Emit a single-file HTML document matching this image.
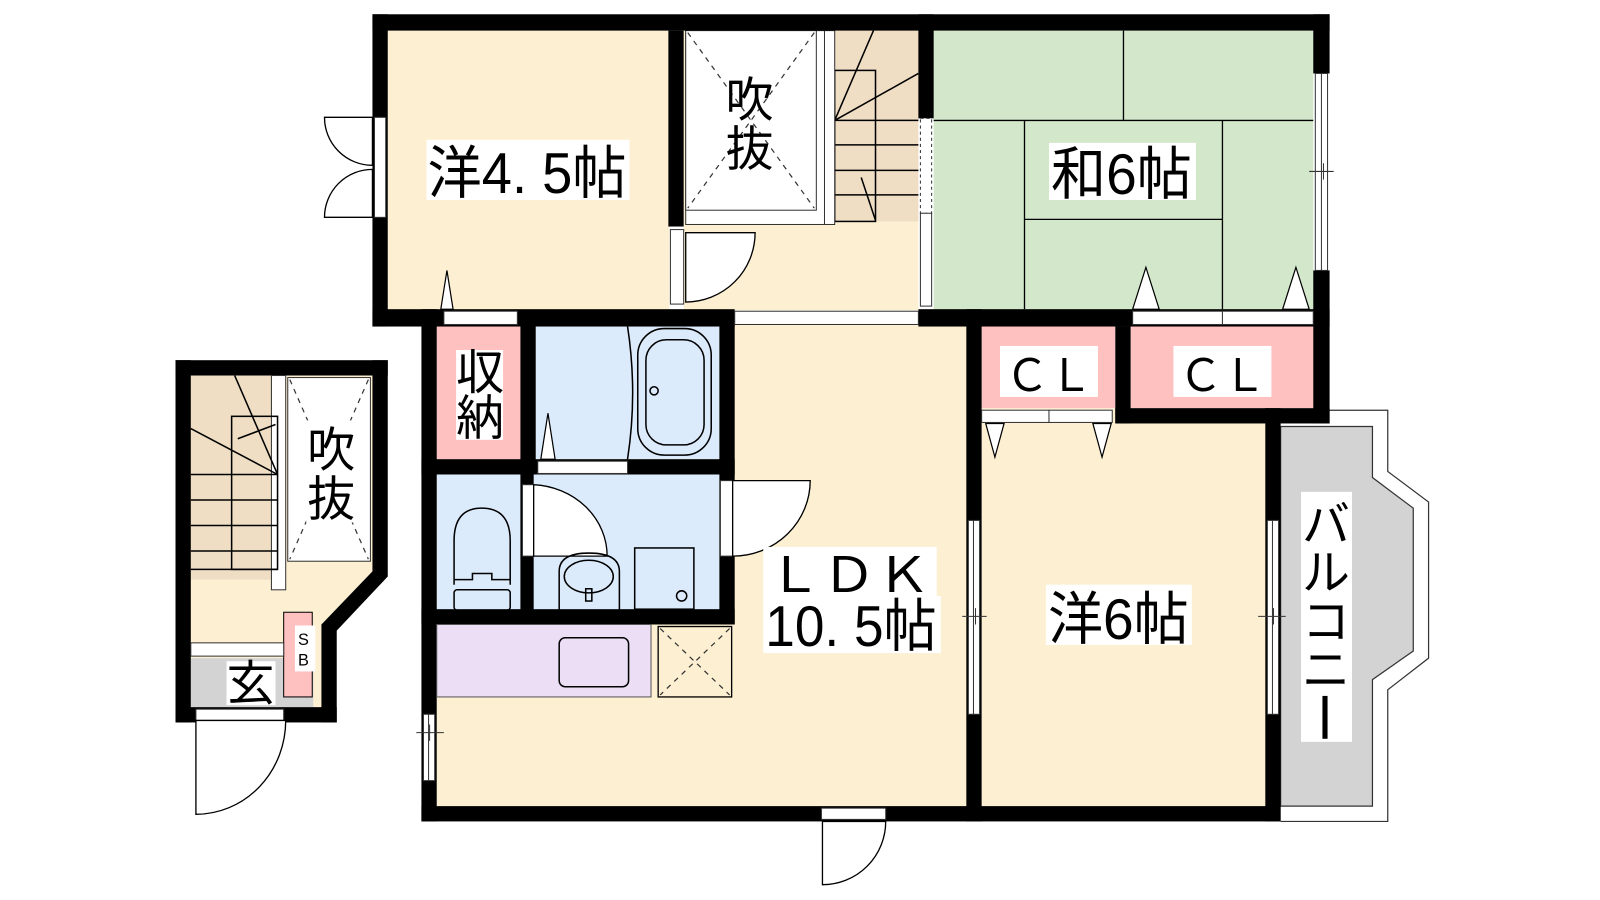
<!DOCTYPE html>
<html><head><meta charset="utf-8"><style>html,body{margin:0;padding:0;background:#fff;}svg{display:block}</style></head>
<body>
<svg width="1600" height="900" viewBox="0 0 1568 882" xmlns="http://www.w3.org/2000/svg" font-family="Liberation Sans, Noto Sans CJK JP, sans-serif">
<g stroke="none">
<rect x="380" y="30" width="276" height="274" fill="#fdf0d2"/>
<rect x="670" y="30" width="230" height="274" fill="#fdf0d2"/>
<rect x="915" y="30" width="372" height="274" fill="#d3e8ca"/>
<rect x="428" y="318" width="520" height="474" fill="#fdf0d2"/>
<rect x="962" y="400" width="280" height="392" fill="#fdf0d2"/>
<rect x="428" y="320" width="82" height="130" fill="#ffc0c0"/>
<rect x="525" y="320" width="180" height="130" fill="#dcebfc"/>
<rect x="428" y="465" width="277" height="133" fill="#dcebfc"/>
<rect x="428" y="612" width="210" height="71" fill="#ecdff5"/>
<rect x="962" y="320" width="131" height="80" fill="#ffc0c0"/>
<rect x="1108" y="320" width="179" height="80" fill="#ffc0c0"/>
<polygon points="187,368 365,368 365,560 315,612 315,693 187,693" fill="#fdf0d2"/>
<rect x="187" y="368" width="85" height="200" fill="#efdec4"/>
<rect x="187" y="645" width="120" height="48" fill="#d3d3d3"/>
<rect x="278" y="600" width="28" height="83" fill="#ffc0c0" stroke="#000" stroke-width="1"/>
<polygon points="1255,418 1345,418 1345,468 1385,498 1385,638 1345,666 1345,790 1255,790" fill="#d3d3d3" stroke="#333" stroke-width="1.2"/>
<polyline points="1255,402 1360,402 1360,462 1400,492 1400,645 1360,676 1360,805 1255,805" fill="none" stroke="#333" stroke-width="1.2"/>
</g>
<rect x="818" y="30" width="82" height="187" fill="#efdec4"/>
<g stroke="#000" stroke-width="1.5" fill="none">
<rect x="818" y="69" width="40" height="148"/>
<line x1="818" y1="118" x2="900" y2="118"/><line x1="818" y1="142" x2="900" y2="142"/>
<line x1="818" y1="167" x2="900" y2="167"/><line x1="818" y1="191" x2="900" y2="191"/>
<line x1="818" y1="118" x2="856" y2="30"/><line x1="818" y1="118" x2="900" y2="72"/>
<line x1="844" y1="174" x2="858" y2="216"/>
</g>
<rect x="808" y="30" width="10" height="190" fill="#fff" stroke="#333" stroke-width="1"/>
<rect x="672" y="30" width="136" height="190" fill="#fff" stroke="#333" stroke-width="1"/>
<rect x="672" y="30" width="128" height="176" fill="#fff" stroke="#333" stroke-width="1"/>
<g stroke="#333" stroke-width="1.2" stroke-dasharray="5,5"><line x1="674" y1="32" x2="798" y2="204"/><line x1="798" y1="32" x2="674" y2="204"/></g>
<g stroke="#000" stroke-width="1.3">
<line x1="1101" y1="30" x2="1101" y2="118"/><line x1="915" y1="118" x2="1287" y2="118"/>
<line x1="1004" y1="118" x2="1004" y2="303"/><line x1="1198" y1="118" x2="1198" y2="303"/>
<line x1="1004" y1="215" x2="1198" y2="215"/>
</g>
<g fill="#000">
<rect x="365" y="14" width="938" height="16"/>
<rect x="365" y="14" width="15" height="306"/>
<rect x="365" y="303" width="355" height="17"/>
<rect x="655" y="30" width="15" height="192"/>
<rect x="900" y="14" width="15" height="102"/>
<rect x="900" y="303" width="403" height="17"/>
<rect x="1287" y="14" width="16" height="58"/>
<rect x="1287" y="265" width="16" height="150"/>
<rect x="413" y="303" width="15" height="502"/>
<rect x="510" y="318" width="15" height="147"/>
<rect x="705" y="318" width="15" height="294"/>
<rect x="413" y="450" width="307" height="15"/>
<rect x="510" y="465" width="13" height="133"/>
<rect x="413" y="597" width="307" height="15"/>
<rect x="947" y="303" width="15" height="502"/>
<rect x="1093" y="320" width="15" height="95"/>
<rect x="1093" y="400" width="210" height="15"/>
<rect x="1240" y="400" width="15" height="405"/>
<rect x="413" y="790" width="842" height="15"/>
<rect x="172" y="353" width="15" height="355"/>
<rect x="172" y="353" width="208" height="15"/>
<polygon points="365,353 380,353 380,565 330,618 330,708 315,708 315,612 365,560"/>
<rect x="172" y="693" width="158" height="15"/>
</g>
<g fill="#fff" stroke="#333" stroke-width="1">
<rect x="367" y="115" width="11" height="98"/>
<rect x="435" y="305" width="72" height="13"/>
<rect x="720" y="305" width="180" height="13"/>
<rect x="657" y="225" width="13" height="73"/>
<rect x="902" y="116" width="11" height="93" stroke-dasharray="3,3"/>
<rect x="902" y="209" width="11" height="91"/>
<rect x="1289" y="72" width="12" height="193"/>
<rect x="1110" y="305" width="88" height="13"/><rect x="1198" y="305" width="89" height="13"/>
<rect x="962" y="402" width="66" height="12"/><rect x="1028" y="402" width="62" height="12"/>
<rect x="527" y="452" width="88" height="12"/>
<rect x="512" y="475" width="11" height="70"/>
<rect x="706" y="471" width="12" height="74"/>
<rect x="949" y="510" width="11" height="190"/>
<rect x="1242" y="510" width="11" height="190"/>
<rect x="415" y="700" width="11" height="65"/>
<rect x="805" y="792" width="63" height="11"/>
<rect x="192" y="695" width="86" height="11"/>
<rect x="187" y="630" width="91" height="13"/>
<rect x="266" y="368" width="14" height="210"/>
</g>
<g stroke="#333" stroke-width="1">
<line x1="1295" y1="72" x2="1295" y2="265"/><line x1="954" y1="510" x2="954" y2="700"/><line x1="1247" y1="510" x2="1247" y2="700"/>
<line x1="420" y1="700" x2="420" y2="765"/>
<line x1="1283" y1="168" x2="1307" y2="168"/><line x1="1297" y1="160" x2="1297" y2="176"/>
<line x1="943" y1="604" x2="967" y2="604"/><line x1="956" y1="596" x2="956" y2="612"/>
<line x1="1233" y1="604" x2="1260" y2="604"/><line x1="1248" y1="596" x2="1248" y2="612"/>
<line x1="408" y1="718" x2="435" y2="718"/><line x1="421" y1="710" x2="421" y2="726"/>
</g>
<g fill="#fff" stroke="#000" stroke-width="1.3">
<path d="M672,228 L740,228 A68,68 0 0 1 672,296 Z"/>
<path d="M523,475 A76,70 0 0 1 595,545 L523,545 Z"/>
<path d="M718,471 L794,471 A76,74 0 0 1 718,545 Z"/>
<path d="M806,805 L806,867 A62,62 0 0 0 868,805 Z"/>
<path d="M192,706 L192,798 A88,92 0 0 0 280,706 Z"/>
<path d="M365,115 L318,115 A47,47 0 0 0 365,162 Z"/>
<path d="M365,213 L318,213 A47,47 0 0 1 365,166 Z"/>
</g>
<g fill="#fff" stroke="#000" stroke-width="1.2">
<polygon points="438,265 432,303 444,303"/>
<polygon points="1123,262 1110,303 1136,303"/>
<polygon points="1270,262 1257,303 1283,303"/>
<polygon points="975,448 966,415 984,415"/>
<polygon points="1080,448 1071,415 1089,415"/>
<polygon points="537,405 530,450 544,450"/>
</g>
<g fill="none" stroke="#000" stroke-width="1.5">
<path d="M615,320 Q625,385 615,450"/>
<rect x="625" y="322" width="72" height="124" rx="26"/>
<rect x="633" y="333" width="57" height="103" rx="20"/>
<circle cx="641" cy="383" r="4"/>
<path d="M445,573 L445,530 Q445,498 472,498 Q500,498 500,530 L500,573"/>
<path d="M445,568 L463,568 L463,562 L482,562 L482,568 L500,568"/>
<rect x="445" y="578" width="55" height="20" rx="3"/>
<path d="M548,598 L548,560 Q548,542 577,542 Q607,542 607,560 L607,598"/>
<ellipse cx="577" cy="565" rx="24" ry="16"/>
<rect x="574" y="577" width="6" height="12"/>
<rect x="622" y="537" width="58" height="60"/>
<circle cx="668" cy="584" r="5"/>
<rect x="548" y="625" width="68" height="48" rx="6"/>
</g>
<rect x="645" y="614" width="72" height="69" fill="#fdf0d2" stroke="#000" stroke-width="1.3"/>
<g stroke="#333" stroke-width="1.2" stroke-dasharray="5,5"><line x1="647" y1="616" x2="715" y2="681"/><line x1="715" y1="616" x2="647" y2="681"/></g>
<rect x="428" y="612" width="210" height="71" fill="none" stroke="#555" stroke-width="1"/>
<g stroke="#000" stroke-width="1.5" fill="none">
<rect x="227" y="408" width="45" height="150"/>
<line x1="187" y1="465" x2="272" y2="465"/><line x1="187" y1="490" x2="272" y2="490"/>
<line x1="187" y1="515" x2="272" y2="515"/><line x1="187" y1="540" x2="272" y2="540"/>
<line x1="187" y1="558" x2="272" y2="558"/>
<line x1="272" y1="465" x2="230" y2="368"/><line x1="272" y1="465" x2="187" y2="420"/>
<line x1="233" y1="430" x2="270" y2="416"/>
</g>
<rect x="282" y="370" width="81" height="180" fill="#fff" stroke="#333" stroke-width="1"/>
<g stroke="#333" stroke-width="1.2" stroke-dasharray="5,5"><line x1="284" y1="372" x2="361" y2="548"/><line x1="361" y1="372" x2="284" y2="548"/></g>
<g fill="#fff">
<rect x="418" y="137" width="199" height="59"/>
<rect x="1028" y="140" width="144" height="56"/>
<rect x="447" y="343" width="46" height="88"/>
<rect x="980" y="339" width="96" height="50"/>
<rect x="1150" y="339" width="96" height="50"/>
<rect x="748" y="536" width="170" height="50"/>
<rect x="748" y="584" width="174" height="56"/>
<rect x="1025" y="573" width="143" height="59"/>
<rect x="1275" y="482" width="50" height="245"/>
<rect x="300" y="412" width="52" height="100"/>
<rect x="222" y="648" width="48" height="43"/>
<rect x="289" y="613" width="20" height="45"/>
</g>
<g fill="#000" font-size="56">
<text x="419" y="189" textLength="195" lengthAdjust="spacingAndGlyphs">洋4. 5帖</text>
<text x="1030" y="190" textLength="138" lengthAdjust="spacingAndGlyphs">和6帖</text>
<text x="1027" y="626" textLength="138" lengthAdjust="spacingAndGlyphs">洋6帖</text>
<text x="750" y="633" textLength="168" lengthAdjust="spacingAndGlyphs">10. 5帖</text>
<text x="752" y="580" font-size="48" textLength="160" lengthAdjust="spacingAndGlyphs">ＬＤＫ</text>
<text x="985" y="383" font-size="44" textLength="86" lengthAdjust="spacingAndGlyphs">ＣＬ</text>
<text x="1155" y="383" font-size="44" textLength="86" lengthAdjust="spacingAndGlyphs">ＣＬ</text>
<text x="447" y="381" font-size="47">収</text><text x="447" y="426" font-size="47">納</text>
<text x="711" y="114" font-size="47">吹</text><text x="711" y="162" font-size="47">抜</text>
<text x="301" y="457" font-size="47">吹</text><text x="301" y="505" font-size="47">抜</text>
<text x="222" y="686" font-size="47">玄</text>
<text x="292" y="632" font-size="16">S</text><text x="292" y="652" font-size="16">B</text>
<text x="1276" y="530" font-size="47">バ</text>
<text x="1276" y="577" font-size="47">ル</text>
<text x="1276" y="625" font-size="47">コ</text>
<text x="1276" y="673" font-size="47">ニ</text>
<rect x="1296" y="682" width="5" height="42"/>
</g>
</svg>
</body></html>
